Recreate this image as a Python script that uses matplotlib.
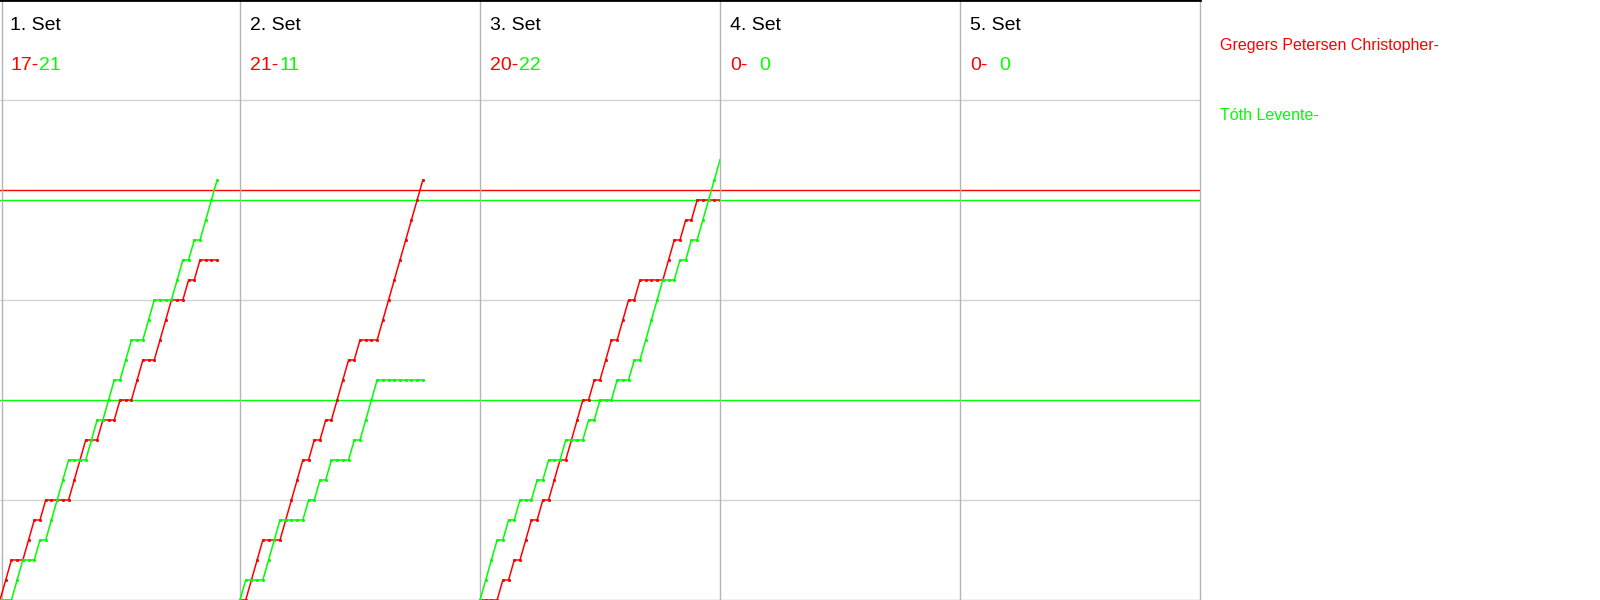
import matplotlib
matplotlib.use("Agg")
import matplotlib.pyplot as plt

plt.rcParams['font.family'] = ['Liberation Sans', 'DejaVu Sans']

# ---- data ----
set_titles = ["1. Set", "2. Set", "3. Set", "4. Set", "5. Set"]
player_names = ["Gregers Petersen Christopher-", "Tóth Levente-"]
final_red = [17, 21, 20, 0, 0]
final_green = [21, 11, 22, 0, 0]

# cumulative scores after each rally (rally 0 = start)
red_set1 = [0, 1, 2, 2, 2, 3, 4, 4, 5, 5, 5, 5, 5, 6, 7, 8, 8, 8, 9, 9, 9, 10, 10, 10,
            11, 12, 12, 12, 13, 14, 15, 15, 15, 16, 16, 17, 17, 17, 17]
green_set1 = [0, 0, 0, 1, 2, 2, 2, 3, 3, 4, 5, 6, 7, 7, 7, 7, 8, 9, 9, 10, 11, 11, 12, 13,
              13, 13, 14, 15, 15, 15, 15, 16, 17, 17, 18, 18, 19, 20, 21]
red_set2 = [0, 0, 1, 2, 3, 3, 3, 3, 4, 5, 6, 7, 7, 8, 8, 9, 9, 10, 11, 12, 12, 13, 13, 13,
            13, 14, 15, 16, 17, 18, 19, 20, 21]
green_set2 = [0, 1, 1, 1, 1, 2, 3, 4, 4, 4, 4, 4, 5, 5, 6, 6, 7, 7, 7, 7, 8, 8, 9, 10,
              11, 11, 11, 11, 11, 11, 11, 11, 11]
red_set3 = [0, 0, 0, 0, 1, 1, 2, 2, 3, 4, 4, 5, 5, 6, 7, 7, 8, 9, 10, 10, 11, 11, 12, 13,
            13, 14, 15, 15, 16, 16, 16, 16, 16, 17, 18, 18, 19, 19, 20, 20, 20, 20, 20]
green_set3 = [0, 1, 2, 3, 3, 4, 4, 5, 5, 5, 6, 6, 7, 7, 7, 8, 8, 8, 8, 9, 9, 10, 10, 10,
              11, 11, 11, 12, 12, 13, 14, 15, 16, 16, 16, 17, 17, 18, 18, 19, 20, 21, 22]
red_set4, green_set4 = [], []
red_set5, green_set5 = [], []

red_sets = [red_set1, red_set2, red_set3, red_set4, red_set5]
green_sets = [green_set1, green_set2, green_set3, green_set4, green_set5]

red_ref_lines = [20.5]
green_ref_lines = [20, 10]
grid_levels = [5, 15, 25]
max_rallies = 42
y_max = 30

# ---- style ----
RED = "#ff0000"
GREEN = "#00ff00"
SEP = "#b4b4b4"
GRID = "#d3d3d3"
W, H = 1600, 600
panel_w = 240

fig = plt.figure(figsize=(16, 6), dpi=100)
fig.patch.set_facecolor("white")

for i in range(5):
    ax = fig.add_axes([i * panel_w / W, 0, panel_w / W, 1])
    ax.set_xlim(0, max_rallies)
    ax.set_ylim(0, y_max)
    ax.set_xticks([])
    ax.set_yticks(grid_levels)
    ax.set_yticklabels([])
    ax.tick_params(length=0)
    ax.grid(True, axis='y', color=GRID, lw=1.0)
    ax.set_axisbelow(True)
    for s in ['left', 'bottom', 'right']:
        ax.spines[s].set_color(SEP)
        ax.spines[s].set_linewidth(1.0)
    ax.spines['right'].set_visible(i == 4)
    ax.spines['top'].set_color('black')
    ax.spines['top'].set_linewidth(2.0)
    if i == 0:
        ax.spines['left'].set_position(('axes', 2.3 / panel_w))

    for lvl in red_ref_lines:
        ax.axhline(lvl, color=RED, lw=1.0, zorder=2)
    for lvl in green_ref_lines:
        ax.axhline(lvl, color=GREEN, lw=1.0, zorder=2)

    rs, gs = red_sets[i], green_sets[i]
    if rs:
        ax.plot(range(len(rs)), rs, color=RED, lw=1.1, marker='s', ms=1.1,
                mec=RED, mfc=RED, zorder=3, clip_on=False)
    if gs:
        ax.plot(range(len(gs)), gs, color=GREEN, lw=1.1, marker='s', ms=1.1,
                mec=GREEN, mfc=GREEN, zorder=3, clip_on=False)

    ax.text(10 / panel_w, 1 - 30 / H, set_titles[i], transform=ax.transAxes,
            fontsize=14, color='black', ha='left', va='baseline')
    ax.text(10 / panel_w, 1 - 70 / H, f"{final_red[i]}-", transform=ax.transAxes,
            fontsize=14, color=RED, ha='left', va='baseline')
    ax.text(39.5 / panel_w, 1 - 70 / H, f"{final_green[i]}", transform=ax.transAxes,
            fontsize=14, color=GREEN, ha='left', va='baseline')

fig.text(1220 / W, 1 - 50 / H, player_names[0], color=RED, fontsize=11.5,
         ha='left', va='baseline')
fig.text(1220 / W, 1 - 120 / H, player_names[1], color=GREEN, fontsize=11.5,
         ha='left', va='baseline')

fig.savefig("out.png", dpi=100, facecolor="white")
